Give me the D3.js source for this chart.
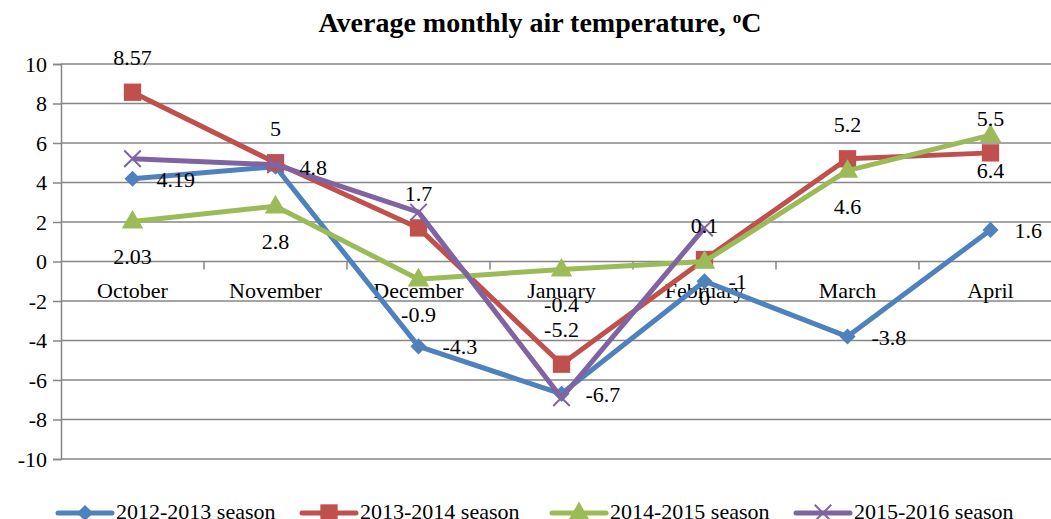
<!DOCTYPE html>
<html>
<head>
<meta charset="utf-8">
<script src="https://cdn.jsdelivr.net/npm/d3@7"></script>
<style>
  body { margin: 0; background: #fff; }
  text { font-family: "Liberation Serif", "DejaVu Serif", serif; }
</style>
</head>
<body>
<svg id="chart" width="1051" height="519"></svg>
<script>
const months = ["October", "November", "December", "January", "February", "March", "April"];
const seasons = ["2012-2013 season", "2013-2014 season", "2014-2015 season", "2015-2016 season"];
const s2012 = [4.19, 4.8, -4.3, -6.7, -1, -3.8, 1.6];
const s2013 = [8.57, 5, 1.7, -5.2, 0.1, 5.2, 5.5];
const s2014 = [2.03, 2.8, -0.9, -0.4, 0, 4.6, 6.4];
const s2015 = [5.2, 4.9, 2.5, -6.9, 1.7];
const yTicks = [10, 8, 6, 4, 2, 0, -2, -4, -6, -8, -10];

const colors = ["#4F81BD", "#C0504D", "#9BBB59", "#8064A2"];
const series = [s2012, s2013, s2014, s2015];
const fs = 22;

const svg = d3.select("#chart");

const x = d3.scaleBand().domain(months).range([61, 1062]);
const y = d3.scaleLinear().domain([-10, 10]).range([459, 64]);
const cx = m => x(m) + x.bandwidth() / 2;

// title
const title = svg.append("text")
    .attr("x", 540)
    .attr("y", 32)
    .attr("text-anchor", "middle")
    .attr("font-size", 28)
    .attr("font-weight", "bold");
title.append("tspan").text("Average monthly air temperature, ");
title.append("tspan").attr("font-size", 17).attr("dy", -9).text("o");
title.append("tspan").attr("dy", 9).text("C");

// gridlines + y axis
const yAxis = d3.axisLeft(y).tickValues(yTicks).tickSize(8).tickPadding(6)
    .tickFormat(d => String(d));
const gy = svg.append("g").attr("transform", "translate(61,0)").call(yAxis);
gy.select(".domain").attr("stroke", "#868686").attr("stroke-width", 1.5);
gy.selectAll(".tick line").attr("stroke", "#868686").attr("stroke-width", 1.5);
gy.selectAll(".tick text").attr("font-size", fs).attr("fill", "#000")
    .attr("font-family", "Liberation Serif, serif");
svg.append("g").selectAll("line")
    .data(yTicks)
    .enter().append("line")
    .attr("x1", 61).attr("x2", 1051)
    .attr("y1", d => y(d)).attr("y2", d => y(d))
    .attr("stroke", "#868686")
    .attr("stroke-width", 1.5);

// x axis at zero
const xAxis = d3.axisBottom(x).tickSize(0);
const gx = svg.append("g").attr("transform", `translate(0,${y(0)})`).call(xAxis);
gx.select(".domain").remove();
gx.selectAll(".tick text").attr("font-size", fs).attr("fill", "#000")
    .attr("font-family", "Liberation Serif, serif")
    .attr("y", 36).attr("dy", 0);
svg.append("g").selectAll("line")
    .data(months)
    .enter().append("line")
    .attr("x1", d => x(d) + x.bandwidth()).attr("x2", d => x(d) + x.bandwidth())
    .attr("y1", y(0)).attr("y2", y(0) + 8)
    .attr("stroke", "#868686")
    .attr("stroke-width", 1.5);

// marker shapes
function drawMarker(g, i, px, py) {
    const c = colors[i];
    if (i === 0) {
        g.append("path").attr("d", d3.symbol(d3.symbolSquare, 130)())
            .attr("transform", `translate(${px},${py}) rotate(45)`)
            .attr("fill", c);
    } else if (i === 1) {
        g.append("path").attr("d", d3.symbol(d3.symbolSquare, 300)())
            .attr("transform", `translate(${px},${py})`)
            .attr("fill", c);
    } else if (i === 2) {
        g.append("path").attr("d", d3.symbol(d3.symbolTriangle, 200)())
            .attr("transform", `translate(${px},${py + 1})`)
            .attr("fill", c);
    } else {
        g.append("path").attr("d", d3.symbol(d3.symbolX, 180)())
            .attr("transform", `translate(${px},${py})`)
            .attr("fill", "none")
            .attr("stroke", c)
            .attr("stroke-width", 2);
    }
}

const line = d3.line()
    .x((d, i) => cx(months[i]))
    .y(d => y(d));

series.forEach((vals, i) => {
    const g = svg.append("g");
    g.append("path")
        .datum(vals)
        .attr("d", line)
        .attr("fill", "none")
        .attr("stroke", colors[i])
        .attr("stroke-width", 5)
        .attr("stroke-linejoin", "round");
    vals.forEach((v, j) => drawMarker(g, i, cx(months[j]), y(v)));
});

// data labels: red above, blue right, green below
const labels = svg.append("g").attr("font-size", fs).attr("fill", "#000");
s2013.forEach((v, j) => labels.append("text")
    .attr("x", cx(months[j])).attr("y", y(v) - 27)
    .attr("text-anchor", "middle").text(v));
s2012.forEach((v, j) => labels.append("text")
    .attr("x", cx(months[j]) + 24).attr("y", y(v) + 8)
    .text(v));
s2014.forEach((v, j) => labels.append("text")
    .attr("x", cx(months[j])).attr("y", y(v) + 43)
    .attr("text-anchor", "middle").text(v));

// legend
const legendX = [58, 302, 552, 796];
seasons.forEach((s, i) => {
    const g = svg.append("g");
    g.append("line")
        .attr("x1", legendX[i]).attr("x2", legendX[i] + 54)
        .attr("y1", 513).attr("y2", 513)
        .attr("stroke", colors[i])
        .attr("stroke-width", 5)
        .attr("stroke-linecap", "round");
    drawMarker(g, i, legendX[i] + 27, 513);
    g.append("text")
        .attr("x", legendX[i] + 58).attr("y", 519)
        .attr("font-size", fs)
        .text(s);
});
</script>
</body>
</html>
